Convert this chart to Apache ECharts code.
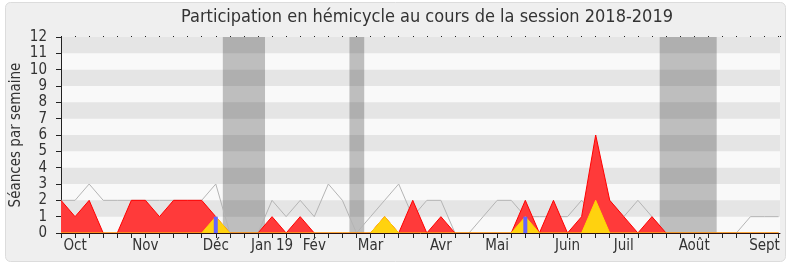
<!DOCTYPE html>
<html>
<head>
<meta charset="utf-8">
<script src="https://cdn.jsdelivr.net/npm/echarts@6/dist/echarts.min.js"></script>
<style>html,body{margin:0;padding:0;background:#fff}#c{width:790px;height:267px}</style>
</head>
<body>
<div id="c"></div>
<script>
// Weekly data, index 0 = first week of the session
var presences = [2,1,2,0,0,2,2,1,2,2,2,1,0,0,0,1,0,1,0,0,0,0,0,1,0,2,0,1,0,0,0,0,0,2,0,2,0,1,6,2,1,0,1,0,0,0,0,0,0,0,0,0];
var interventions = [0,0,0,0,0,0,0,0,0,0,0,1,0,0,0,0,0,0,0,0,0,0,0,1,0,0,0,0,0,0,0,0,0,1,0,0,0,0,2,0,0,0,0,0,0,0,0,0,0,0,0,0];
var questionWeeks = [11,33];
var questionValues = [1,1];
var totalSeances = [2,2,3,2,2,2,2,2,2,2,2,3,0,0,0,2,1,2,1,3,2,0,1,2,3,1,2,2,0,0,1,2,2,1,1,1,1,2,1,2,1,2,1,0,0,0,0,0,0,1,1,1];
var vacationStart = [11.5,20.5,42.55];
var vacationEnd = [14.5,21.55,46.6];
var monthLabels = ['Oct','Nov','Déc','Jan 19','Fév','Mar','Avr','Mai','Juin','Juil','Août','Sept'];
var monthLabelWeeks = [1,6,11,15,18,22,27,31,36,40,45,50];

var FONT = "'DejaVu Sans Condensed','DejaVu Sans',sans-serif";
function pairs(arr){ return arr.map(function(v,i){ return [i,v]; }); }
var labelMap = {};
monthLabelWeeks.forEach(function(w,i){ labelMap[w] = monthLabels[i]; });
var vacData = vacationStart.map(function(s,i){ return [s, vacationEnd[i]]; });

var chart = echarts.init(document.getElementById('c'), null, {renderer:'canvas'});
chart.setOption({
  animation:false,
  backgroundColor:'#ffffff',
  graphic:{elements:[{type:'rect', z:-100, shape:{x:5.5,y:2.5,width:780,height:259,r:5}, style:{fill:'#EFEFEF', stroke:'#DCDCDC', lineWidth:1}}]},
  title:{text:'Participation en hémicycle au cours de la session 2018-2019', left:422, textAlign:'center', top:3,
    textStyle:{fontFamily:FONT, fontSize:18, fontWeight:'normal', color:'#333'}},
  grid:{left:61, right:10, top:37, bottom:34, show:true, backgroundColor:'#F9F9F9', borderWidth:0, containLabel:false, outerBoundsMode:'none'},
  xAxis:[{type:'value', min:0, max:51.1, interval:1, z:10,
    axisLine:{lineStyle:{color:'#2a1010', width:1}},
    axisTick:{show:true, length:5, lineStyle:{color:'#222'}},
    axisLabel:{fontFamily:FONT, fontSize:15, color:'#333', margin:6, showMaxLabel:false,
      formatter:function(v){ return labelMap[v] || ''; }},
    splitLine:{show:false}},
   {type:'value', position:'top', min:0, max:51.1, interval:1, z:10,
    axisLine:{show:false}, axisTick:{show:true, length:1, lineStyle:{color:'#222'}}, axisLabel:{show:false}, splitLine:{show:false}}],
  yAxis:{type:'value', min:0, max:12, interval:1, z:3,
    name:'Séances par semaine', nameLocation:'middle', nameGap:37, nameMoveOverlap:false,
    nameTextStyle:{fontFamily:FONT, fontSize:15, color:'#333'},
    axisLine:{show:true, lineStyle:{color:'#222'}},
    axisTick:{show:true, length:5, lineStyle:{color:'#222'}},
    axisLabel:{fontFamily:FONT, fontSize:15, color:'#333', margin:14},
    splitLine:{show:false},
    splitArea:{show:true, areaStyle:{color:['rgba(0,0,0,0)','rgba(0,0,0,0.08)']}}},
  series:[
    {type:'custom', z:1, silent:true, data:vacData,
      renderItem:function(params, api){
        var p0 = api.coord([api.value(0), 12]);
        var p1 = api.coord([api.value(1), 0]);
        return {type:'rect', shape:{x:p0[0], y:p0[1], width:p1[0]-p0[0], height:p1[1]-p0[1]}, style:{fill:'#BEBEBE'}};
      }},
    {type:'line', z:4, data:pairs(totalSeances), symbol:'none', lineStyle:{color:'#B4B4B4', width:1}},
    {type:'line', z:5, data:pairs(presences), symbol:'none', lineStyle:{color:'#FF0000', width:1}, areaStyle:{color:'#FF3A3A', opacity:1}},
    {type:'line', z:6, data:pairs(interventions), symbol:'none', lineStyle:{color:'#FFD700', width:1}, areaStyle:{color:'#FFD20F', opacity:1}},
    {type:'bar', z:7, barWidth:4, data:questionWeeks.map(function(w,i){ return [w, questionValues[i]]; }), itemStyle:{color:'#6464FF'}}
  ]
});
</script>
</body>
</html>
